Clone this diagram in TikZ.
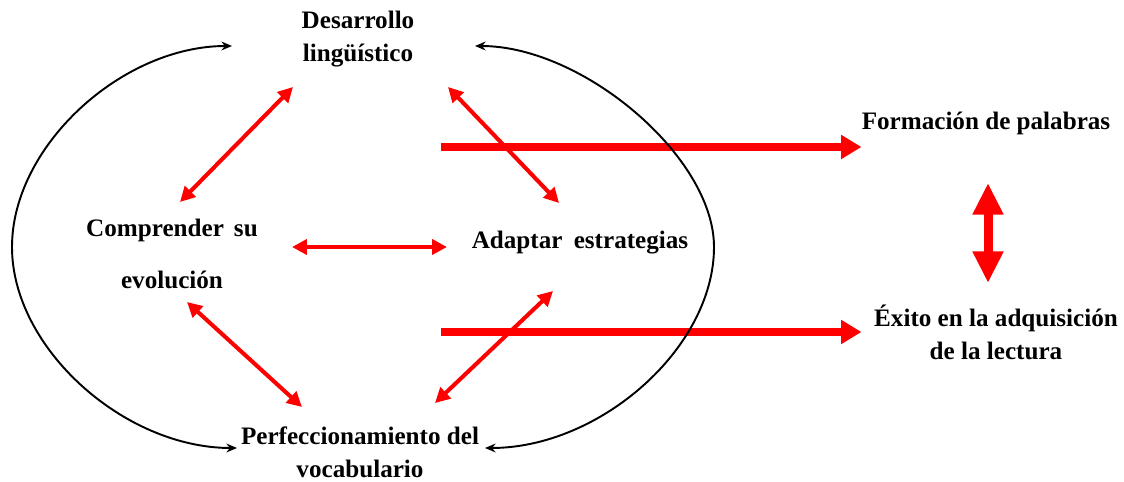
\documentclass[tikz,border=0pt]{standalone}
\usepackage{fontspec}
\setmainfont{Liberation Serif}
\usetikzlibrary{arrows.meta}

\tikzset{
  lbl/.style={font=\fontsize{14.3}{18.7}\selectfont\bfseries, align=center, inner sep=0pt},
  rpfeil/.style={red, line width=2.3pt, {Triangle[length=8.5pt,width=8.5pt]}-{Triangle[length=8.5pt,width=8.5pt]}},
  dickpfeil/.style={red, line width=4pt, -{Triangle[length=11.5pt,width=13pt]}},
  bogen/.style={black, line width=1.1pt, {Stealth[length=6pt,width=5pt]}-{Stealth[length=6pt,width=5pt]}}
}

\begin{document}
\begin{tikzpicture}[x=0.02cm, y=-0.02cm]
  \useasboundingbox (0,0) rectangle (1124,482);

  \node[lbl] (des) at (358,39) {Desarrollo\\ lingüístico};
  \node[lbl] (com) at (172,254) {Comprender\hspace{0.4em}su\\[10.8pt] evolución};
  \node[lbl] (ada) at (580,243) {Adaptar\hspace{0.45em}estrategias};
  \node[lbl] (per) at (360,452) {Perfeccionamiento del\\ vocabulario};
  \node[lbl] (for) at (986,123) {Formación de palabras};
  \node[lbl] (exi) at (996,332) {Éxito en la adquisición\\ de la lectura};

  % Enden der Pfeile
  \coordinate (desL) at (293,87);  \coordinate (comO) at (180,202);
  \coordinate (desR) at (448,87);  \coordinate (adaO) at (559,203);
  \coordinate (comR) at (292,247); \coordinate (adaL) at (447,247);
  \coordinate (comU) at (187,302); \coordinate (perL) at (302,407);
  \coordinate (perR) at (435,403); \coordinate (adaU) at (553,291);
  \coordinate (oben) at (441,147); \coordinate (unten) at (441,332);
  \coordinate (forU) at (988,183); \coordinate (exiO) at (988,283);

  \draw[rpfeil] (desL) -- (comO);
  \draw[rpfeil] (desR) -- (adaO);
  \draw[rpfeil] (comR) -- (adaL);
  \draw[rpfeil] (comU) -- (perL);
  \draw[rpfeil] (perR) -- (adaU);

  \draw[dickpfeil] (oben) -- (for.west |- oben);
  \draw[dickpfeil] (unten) -- (for.west |- unten);

  \draw[red, line width=5.1pt, {Triangle[length=18pt,width=16.5pt]}-{Triangle[length=18pt,width=16.5pt]}]
    (forU) -- (exiO);

  % Boegen
  \draw[bogen] (232,46) .. controls (122,46) and (12,146) .. (12,247)
    .. controls (12,348) and (124,448) .. (237,448);
  \draw[bogen] (475,46) .. controls (583,46) and (714,157) .. (714,247)
    .. controls (714,348) and (600,448) .. (485,448);
\end{tikzpicture}
\end{document}
